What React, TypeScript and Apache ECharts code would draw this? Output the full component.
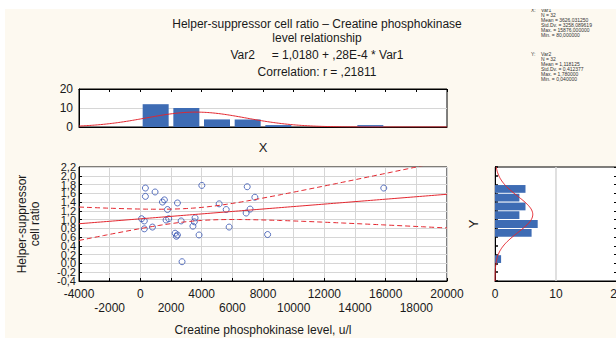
import React, { useEffect, useRef } from "react";
import * as echarts from "echarts";

// ---- data ----
const xBinStarts = [-4000, -2000, 0, 2000, 4000, 6000, 8000, 10000, 12000, 14000, 16000, 18000];
const xBinCounts = [0, 0, 12, 10, 4, 4, 1, 0, 0, 1, 0, 0];
const yBinStarts = [-0.4, -0.2, 0.0, 0.2, 0.4, 0.6, 0.8, 1.0, 1.2, 1.4, 1.6, 1.8, 2.0];
const yBinCounts = [0, 0, 1, 0, 0, 6, 7, 4, 5, 4, 5, 0, 0];

const ckLevel = [80, 260, 260, 330, 330, 790, 960, 1440, 1570, 1680, 1770, 1850, 2420, 2270, 2350, 2420, 2660, 2720, 3430, 3520, 3570, 3830, 4010, 5140, 5600, 5790, 6900, 6970, 7160, 7470, 8300, 15876];
const hsRatio = [1.02, 0.97, 0.79, 1.72, 1.53, 0.83, 1.63, 1.40, 1.45, 0.99, 1.23, 1.02, 1.38, 0.69, 0.62, 0.65, 0.97, 0.04, 0.85, 0.95, 1.04, 0.65, 1.78, 1.36, 1.23, 0.83, 1.15, 1.75, 1.24, 1.51, 0.66, 1.72];

// stated statistics (from the chart's annotation)
const nObs = 32;
const xMean = 3626.03125;
const xSd = 3258.089619;
const yMean = 1.118125;
const ySd = 0.412377;
const intercept = 1.018;
const slope = 0.000028;
const rCorr = 0.21811;
const tCrit = 2.042;

const statsX = ["N = 32", "Mean = 3626,031250", "Std.Dv. = 3258,089619", "Max. = 15876,000000", "Min. = 80,000000"];
const statsY = ["N = 32", "Mean = 1,118125", "Std.Dv. = 0,412377", "Max. = 1,780000", "Min. = 0,040000"];

const FONT = '"Liberation Sans", Arial, sans-serif';
const BLUE = "#3e6cb4";
const RED = "#e3262e";
const GRID = "#d6d6d6";
const TXT = "#1a1a1a";

function normalPdf(v: number, m: number, s: number) {
  return Math.exp(-0.5 * ((v - m) / s) ** 2) / (s * Math.sqrt(2 * Math.PI));
}

export default function App() {
  const ref = useRef<HTMLDivElement>(null);
  useEffect(() => {
    document.body.style.margin = "0";
    const chart = echarts.init(ref.current!, null, { renderer: "svg" });

    const topCurve: number[][] = [];
    for (let x = -4000; x <= 20000; x += 100) topCurve.push([x, nObs * 2000 * normalPdf(x, xMean, xSd)]);
    const rightCurve: number[][] = [];
    for (let y = -0.4; y <= 2.2001; y += 0.02) rightCurve.push([nObs * 0.2 * normalPdf(y, yMean, ySd), y]);

    const sRes = ySd * Math.sqrt(1 - rCorr * rCorr) * Math.sqrt((nObs - 1) / (nObs - 2));
    const sxx = (nObs - 1) * xSd * xSd;
    const regLine: number[][] = [];
    const ciUp: number[][] = [];
    const ciLo: number[][] = [];
    for (let x = -4000; x <= 20000; x += 200) {
      const yh = intercept + slope * x;
      const hw = tCrit * sRes * Math.sqrt(1 / nObs + ((x - xMean) ** 2) / sxx);
      regLine.push([x, yh]);
      ciUp.push([x, yh + hw]);
      ciLo.push([x, yh - hw]);
    }

    const axisLabelBase = { color: TXT, fontFamily: FONT, fontSize: 12 };
    const commaFmt = (v: number) => v.toFixed(1).replace(".", ",");
    const blackLine = { show: true, onZero: false, lineStyle: { color: "#000" } };
    const isMajor = (v: number) => Math.round(v) % 4000 === 0;
    const yStep = (v: number) => Math.round((v + 0.4) / 0.2);

    const graphics: any[] = [
      { type: "rect", shape: { x: 0, y: 0, width: 616, height: 9 }, style: { fill: "#ffffff" }, z: 100 },
      { type: "rect", shape: { x: 0, y: 0, width: 5, height: 338 }, style: { fill: "#ffffff" }, z: 100 },
    ];
    const titleLines = [
      { t: "Helper-suppressor cell ratio \u2013 Creatine phosphokinase", y: 24 },
      { t: "level relationship", y: 38 },
      { t: "Var2     = 1,0180 + ,28E-4 * Var1", y: 55 },
      { t: "Correlation: r = ,21811", y: 72 },
    ];
    titleLines.forEach((l) =>
      graphics.push({
        type: "text",
        x: 317,
        y: l.y,
        style: { text: l.t, fill: TXT, fontFamily: FONT, fontSize: 12, align: "center", verticalAlign: "middle" },
      })
    );
    const addStats = (head: string, name: string, lines: string[], y0: number) => {
      graphics.push({
        type: "text", x: 531, y: y0,
        style: { text: head, fill: "#333", fontFamily: FONT, fontSize: 5, align: "left", verticalAlign: "top" },
      });
      graphics.push({
        type: "text", x: 541, y: y0,
        style: { text: [name, ...lines].join("\n"), fill: "#333", fontFamily: FONT, fontSize: 5, lineHeight: 5, align: "left", verticalAlign: "top" },
      });
    };
    addStats("X:", "Var1", statsX, 7);
    addStats("Y:", "Var2", statsY, 51);

    const gridBase = { show: true, backgroundColor: "#fff", borderColor: "#000", borderWidth: 1, outerBoundsMode: "none", containLabel: false };

    chart.setOption({
      animation: false,
      backgroundColor: "#fdf9f0",
      textStyle: { fontFamily: FONT },
      grid: [
        { ...gridBase, left: 79, top: 89, width: 368, height: 38 },
        { ...gridBase, left: 79, top: 167, width: 368, height: 114 },
        { ...gridBase, left: 495, top: 167, width: 122, height: 114 },
      ],
      xAxis: [
        {
          gridIndex: 0, type: "value", min: -4000, max: 20000, interval: 2000, position: "bottom",
          axisLine: blackLine, axisTick: { show: false }, axisLabel: { show: false },
          splitLine: { show: false },
          name: "X", nameLocation: "middle", nameGap: 14, nameTextStyle: { ...axisLabelBase, fontSize: 13 },
        },
        {
          gridIndex: 0, type: "value", min: -4000, max: 20000, interval: 2000, position: "top",
          axisLine: blackLine, axisTick: { show: true, inside: true, length: 3, lineStyle: { color: "#000" } },
          axisLabel: { show: false }, splitLine: { show: false },
        },
        {
          // scatter x axis, upper row of labels
          gridIndex: 1, type: "value", min: -4000, max: 20000, interval: 2000, position: "bottom",
          axisLine: blackLine, axisTick: { show: true, inside: true, length: 3, lineStyle: { color: "#000" } },
          axisLabel: {
            ...axisLabelBase, margin: 6, lineHeight: 14, showMinLabel: true, showMaxLabel: true,
            formatter: (v: number) => (isMajor(v) ? String(v) : ""),
          },
          splitLine: { show: true, lineStyle: { color: GRID } },
          name: "Creatine phosphokinase level, u/l", nameLocation: "middle", nameGap: 43, nameTextStyle: { ...axisLabelBase },
        },
        {
          gridIndex: 2, type: "value", min: 0, max: 20, interval: 10,
          axisLine: blackLine, axisTick: { show: false },
          axisLabel: { ...axisLabelBase, margin: 6, lineHeight: 14, showMinLabel: true, showMaxLabel: true },
          splitLine: { show: true, lineStyle: { color: GRID, width: 1.5 } },
        },
        {
          // scatter x axis, lower row of labels
          gridIndex: 1, type: "value", min: -4000, max: 20000, interval: 2000, position: "bottom",
          axisLine: { show: false, onZero: false }, axisTick: { show: false }, splitLine: { show: false },
          axisLabel: {
            ...axisLabelBase, margin: 20, lineHeight: 14, showMinLabel: true, showMaxLabel: true,
            formatter: (v: number) => (isMajor(v) ? "" : String(v)),
          },
        },
      ],
      yAxis: [
        {
          gridIndex: 0, type: "value", min: 0, max: 20, interval: 10,
          axisLine: blackLine, axisTick: { show: false },
          axisLabel: { ...axisLabelBase, margin: 6, showMinLabel: true, showMaxLabel: true },
          splitLine: { show: true, lineStyle: { color: GRID } },
        },
        {
          // scatter y axis: labels -0,4; 0,0; 0,4 ... 2,0
          gridIndex: 1, type: "value", min: -0.4, max: 2.2, interval: 0.2,
          axisLine: blackLine, axisTick: { show: true, inside: true, length: 3, lineStyle: { color: "#000" } },
          axisLabel: {
            ...axisLabelBase, fontSize: 11, lineHeight: 8, margin: 3, showMinLabel: true, showMaxLabel: false,
            formatter: (v: number) => (yStep(v) % 2 === 0 ? commaFmt(v) : ""),
          },
          splitLine: { show: true, lineStyle: { color: GRID } },
          name: "Helper-suppressor\ncell ratio", nameLocation: "middle", nameRotate: 90, nameGap: 38,
          nameTextStyle: { ...axisLabelBase, lineHeight: 13 },
        },
        {
          gridIndex: 2, type: "value", min: -0.4, max: 2.2, interval: 0.2, position: "left",
          axisLine: blackLine, axisTick: { show: true, inside: true, length: 3, lineStyle: { color: "#000", width: 1.5 } },
          axisLabel: { show: false }, splitLine: { show: false },
          name: "Y", nameLocation: "middle", nameRotate: 90, nameGap: 15, nameTextStyle: { ...axisLabelBase, fontSize: 13 },
        },
        {
          gridIndex: 2, type: "value", min: -0.4, max: 2.2, interval: 0.2, position: "right",
          axisLine: blackLine, axisTick: { show: true, inside: true, length: 3, lineStyle: { color: "#000" } },
          axisLabel: { show: false }, splitLine: { show: false },
        },
        {
          // scatter y axis: labels -0,2; 0,2 ... 2,2
          gridIndex: 1, type: "value", min: -0.4, max: 2.2, interval: 0.2, position: "left",
          axisLine: { show: false, onZero: false }, axisTick: { show: false }, splitLine: { show: false },
          axisLabel: {
            ...axisLabelBase, fontSize: 11, lineHeight: 8, margin: 3, showMinLabel: false, showMaxLabel: true,
            formatter: (v: number) => (yStep(v) % 2 === 1 ? commaFmt(v) : ""),
          },
        },
      ],
      series: [
        {
          type: "bar", xAxisIndex: 0, yAxisIndex: 0, barWidth: 26,
          itemStyle: { color: BLUE },
          data: xBinStarts.map((s, i) => [s + 1000, xBinCounts[i]]),
        },
        {
          type: "line", xAxisIndex: 0, yAxisIndex: 0, showSymbol: false, symbol: "none",
          lineStyle: { color: RED, width: 1 }, data: topCurve,
        },
        {
          type: "line", xAxisIndex: 2, yAxisIndex: 1, showSymbol: false, symbol: "none", clip: true,
          lineStyle: { color: RED, width: 1 }, data: regLine,
        },
        {
          type: "line", xAxisIndex: 2, yAxisIndex: 1, showSymbol: false, symbol: "none", clip: true,
          lineStyle: { color: RED, width: 1, type: [5, 3] }, data: ciUp,
        },
        {
          type: "line", xAxisIndex: 2, yAxisIndex: 1, showSymbol: false, symbol: "none", clip: true,
          lineStyle: { color: RED, width: 1, type: [5, 3] }, data: ciLo,
        },
        {
          type: "scatter", xAxisIndex: 2, yAxisIndex: 1, symbol: "circle", symbolSize: 6,
          itemStyle: { color: "rgba(0,0,0,0)", borderColor: "#3553b0", borderWidth: 1 },
          data: ckLevel.map((x, i) => [x, hsRatio[i]]),
        },
        {
          type: "custom", xAxisIndex: 3, yAxisIndex: 2,
          data: yBinStarts.map((s, i) => [yBinCounts[i], s, s + 0.2]),
          renderItem: (params: any, api: any) => {
            const c = api.value(0);
            if (!c) return null;
            const p0 = api.coord([0, api.value(2)]);
            const p1 = api.coord([c, api.value(1)]);
            return {
              type: "rect",
              shape: { x: p0[0], y: p0[1] + 0.5, width: p1[0] - p0[0], height: p1[1] - p0[1] - 1 },
              style: { fill: BLUE },
            };
          },
        },
        {
          type: "line", xAxisIndex: 3, yAxisIndex: 2, showSymbol: false, symbol: "none", clip: true,
          lineStyle: { color: RED, width: 1 }, data: rightCurve,
        },
      ],
      graphic: graphics,
    });
    return () => chart.dispose();
  }, []);
  return <div ref={ref} style={{ width: 616, height: 338 }} />;
}
